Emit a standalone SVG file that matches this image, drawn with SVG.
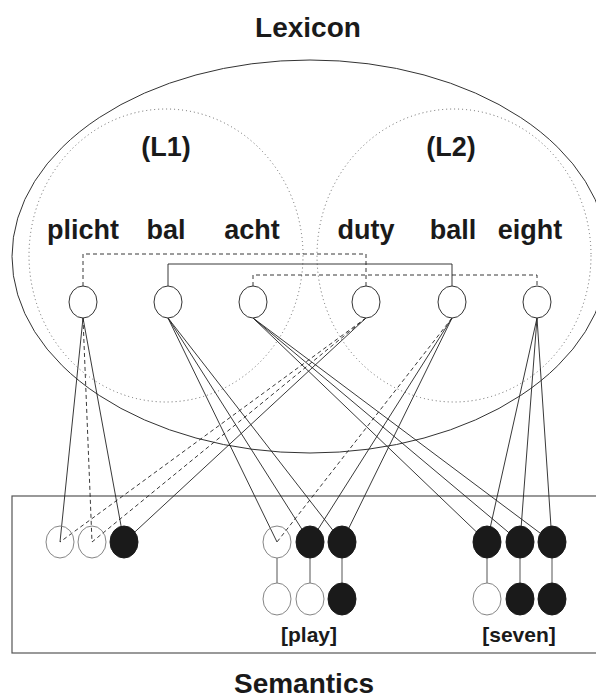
<svg xmlns="http://www.w3.org/2000/svg" width="596" height="698" viewBox="0 0 596 698">
  <style>
    .title { font-family: "Liberation Sans", Arial, sans-serif; font-weight: bold; font-size: 28px; fill: #1a1a1a; text-anchor: middle; }
    .word { font-family: "Liberation Sans", Arial, sans-serif; font-weight: bold; font-size: 27px; fill: #1a1a1a; text-anchor: middle; }
    .tag { font-family: "Liberation Sans", Arial, sans-serif; font-weight: bold; font-size: 21px; fill: #1a1a1a; text-anchor: middle; }
    .region { fill: none; stroke: #333; stroke-width: 1; }
    .lang { fill: none; stroke: #666; stroke-width: 1; stroke-dasharray: 1 3; }
    .box { fill: none; stroke: #555; stroke-width: 1.2; }
    .lex { fill: #fff; stroke: #333; stroke-width: 1; }
    .on { fill: #1a1a1a; stroke: #1a1a1a; stroke-width: 1; }
    .off { fill: none; stroke: #777; stroke-width: 0.9; }
    .solid { stroke: #222; stroke-width: 0.9; fill: none; }
    .dash { stroke: #222; stroke-width: 0.9; fill: none; stroke-dasharray: 4 3; }
    .stem { stroke: #555; stroke-width: 1; }
  </style>

  <!-- titles -->
  <text class="title" x="308" y="37">Lexicon</text>
  <text class="title" x="304" y="693">Semantics</text>

  <!-- lexicon region and the two language subsets -->
  <ellipse class="region" cx="310" cy="256.5" rx="298" ry="196.5"/>
  <ellipse class="lang" cx="166" cy="255.5" rx="137" ry="146.5"/>
  <ellipse class="lang" cx="454" cy="255.5" rx="137" ry="146.5"/>
  <text class="word" x="166" y="156">(L1)</text>
  <text class="word" x="451" y="156">(L2)</text>

  <!-- semantics box -->
  <rect class="box" x="12" y="496" width="600" height="157"/>

  <!-- connectors -->
  <g id="connectors">
    <!-- translation-equivalent links between lexical nodes -->
    <path class="dash" d="M83 286 V254 H366 V286"/>
    <path class="solid" d="M168 286 V264 H452 V286"/>
    <path class="dash" d="M253 286 V275 H537 V286"/>

    <!-- plicht -->
    <line class="solid" x1="83" y1="318" x2="60" y2="542"/>
    <line class="dash" x1="83" y1="318" x2="92" y2="542"/>
    <line class="solid" x1="83" y1="318" x2="124" y2="542"/>
    <!-- duty -->
    <line class="dash" x1="366" y1="318" x2="60" y2="542"/>
    <line class="dash" x1="366" y1="318" x2="92" y2="542"/>
    <line class="solid" x1="366" y1="318" x2="124" y2="542"/>
    <!-- bal -->
    <line class="solid" x1="168" y1="318" x2="277" y2="542"/>
    <line class="solid" x1="168" y1="318" x2="310" y2="542"/>
    <line class="solid" x1="168" y1="318" x2="342" y2="542"/>
    <!-- ball -->
    <line class="dash" x1="452" y1="318" x2="277" y2="542"/>
    <line class="solid" x1="452" y1="318" x2="310" y2="542"/>
    <line class="solid" x1="452" y1="318" x2="342" y2="542"/>
    <!-- acht -->
    <line class="solid" x1="253" y1="318" x2="487" y2="542"/>
    <line class="solid" x1="253" y1="318" x2="520" y2="542"/>
    <line class="solid" x1="253" y1="318" x2="552" y2="542"/>
    <!-- eight -->
    <line class="solid" x1="537" y1="318" x2="487" y2="542"/>
    <line class="solid" x1="537" y1="318" x2="520" y2="542"/>
    <line class="solid" x1="537" y1="318" x2="552" y2="542"/>

    <!-- links between the two feature rows -->
    <line class="stem" x1="277" y1="558" x2="277" y2="583"/>
    <line class="stem" x1="310" y1="558" x2="310" y2="583"/>
    <line class="stem" x1="342" y1="558" x2="342" y2="583"/>
    <line class="stem" x1="487" y1="558" x2="487" y2="583"/>
    <line class="stem" x1="520" y1="558" x2="520" y2="583"/>
    <line class="stem" x1="552" y1="558" x2="552" y2="583"/>
  </g>

  <!-- lexical nodes -->
  <g id="lex-plicht"><text class="word" x="83" y="239">plicht</text><ellipse class="lex" cx="83" cy="302" rx="14" ry="16"/></g>
  <g id="lex-bal"><text class="word" x="166" y="239">bal</text><ellipse class="lex" cx="168" cy="302" rx="14" ry="16"/></g>
  <g id="lex-acht"><text class="word" x="252" y="239">acht</text><ellipse class="lex" cx="253" cy="302" rx="14" ry="16"/></g>
  <g id="lex-duty"><text class="word" x="366" y="239">duty</text><ellipse class="lex" cx="366" cy="302" rx="14" ry="16"/></g>
  <g id="lex-ball"><text class="word" x="453" y="239">ball</text><ellipse class="lex" cx="452" cy="302" rx="14" ry="16"/></g>
  <g id="lex-eight"><text class="word" x="530" y="239">eight</text><ellipse class="lex" cx="537" cy="302" rx="14" ry="16"/></g>

  <!-- semantic feature nodes: duty/plicht -->
  <g id="sem-a1"><ellipse class="off" cx="60" cy="542" rx="14" ry="16"/></g>
  <g id="sem-a2"><ellipse class="off" cx="92" cy="542" rx="14" ry="16"/></g>
  <g id="sem-a3"><ellipse class="on" cx="124" cy="542" rx="14" ry="16"/></g>

  <!-- semantic feature nodes: [play] -->
  <g id="sem-b1"><ellipse class="off" cx="277" cy="542" rx="14" ry="16"/></g>
  <g id="sem-b2"><ellipse class="on" cx="310" cy="542" rx="14" ry="16"/></g>
  <g id="sem-b3"><ellipse class="on" cx="342" cy="542" rx="14" ry="16"/></g>
  <g id="sem-b4"><ellipse class="off" cx="277" cy="599" rx="14" ry="16"/></g>
  <g id="sem-b5"><ellipse class="off" cx="310" cy="599" rx="14" ry="16"/></g>
  <g id="sem-b6"><ellipse class="on" cx="342" cy="599" rx="14" ry="16"/></g>
  <text class="tag" x="309" y="642">[play]</text>

  <!-- semantic feature nodes: [seven] -->
  <g id="sem-c1"><ellipse class="on" cx="487" cy="542" rx="14" ry="16"/></g>
  <g id="sem-c2"><ellipse class="on" cx="520" cy="542" rx="14" ry="16"/></g>
  <g id="sem-c3"><ellipse class="on" cx="552" cy="542" rx="14" ry="16"/></g>
  <g id="sem-c4"><ellipse class="off" cx="487" cy="599" rx="14" ry="16"/></g>
  <g id="sem-c5"><ellipse class="on" cx="520" cy="599" rx="14" ry="16"/></g>
  <g id="sem-c6"><ellipse class="on" cx="552" cy="599" rx="14" ry="16"/></g>
  <text class="tag" x="519" y="642">[seven]</text>
</svg>
